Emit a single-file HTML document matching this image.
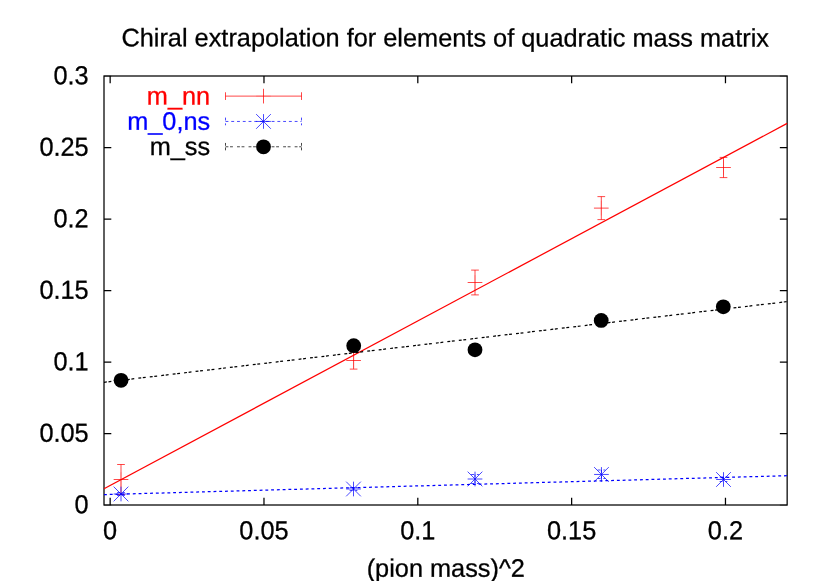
<!DOCTYPE html>
<html><head><meta charset="utf-8"><title>Chiral extrapolation</title>
<style>html,body{margin:0;padding:0;background:#fff;overflow:hidden}svg{display:block;will-change:transform}text{font-family:"Liberation Sans",sans-serif;font-size:25.33px;fill:#000;stroke:#000;stroke-width:0.28px;text-rendering:geometricPrecision}</style></head><body>
<svg width="830" height="581" viewBox="0 0 830 581">
<rect width="830" height="581" fill="#fff"/>
<text transform="translate(445.20 46.40) skewY(0.03)" text-anchor="middle">Chiral extrapolation for elements of quadratic mass matrix</text>
<g stroke="#000" stroke-width="1.25" fill="none">
<path d="M104.00 505.00h7.30M787.15 505.00h-7.30" stroke-opacity="0.45"/>
<path d="M104.00 433.50h7.30M787.15 433.50h-7.30"/>
<path d="M104.00 362.00h7.30M787.15 362.00h-7.30"/>
<path d="M104.00 290.50h7.30M787.15 290.50h-7.30"/>
<path d="M104.00 219.00h7.30M787.15 219.00h-7.30"/>
<path d="M104.00 147.50h7.30M787.15 147.50h-7.30"/>
<path d="M104.00 76.00h7.30M787.15 76.00h-7.30" stroke-opacity="0.45"/>
<path d="M110.15 505.00v-7.30M110.15 76.00v7.30"/>
<path d="M263.98 505.00v-7.30M263.98 76.00v7.30"/>
<path d="M417.81 505.00v-7.30M417.81 76.00v7.30"/>
<path d="M571.64 505.00v-7.30M571.64 76.00v7.30"/>
<path d="M725.47 505.00v-7.30M725.47 76.00v7.30"/>
</g>
<text transform="translate(88.70 513.30) skewY(0.03) scale(1 1.03)" text-anchor="end">0</text>
<text transform="translate(88.70 441.80) skewY(0.03) scale(1 1.03)" text-anchor="end">0.05</text>
<text transform="translate(88.70 370.30) skewY(0.03) scale(1 1.03)" text-anchor="end">0.1</text>
<text transform="translate(88.70 298.80) skewY(0.03) scale(1 1.03)" text-anchor="end">0.15</text>
<text transform="translate(88.70 227.30) skewY(0.03) scale(1 1.03)" text-anchor="end">0.2</text>
<text transform="translate(88.70 155.80) skewY(0.03) scale(1 1.03)" text-anchor="end">0.25</text>
<text transform="translate(88.70 84.30) skewY(0.03) scale(1 1.03)" text-anchor="end">0.3</text>
<text transform="translate(110.15 539.30) skewY(0.03) scale(1 1.03)" text-anchor="middle">0</text>
<text transform="translate(263.98 539.30) skewY(0.03) scale(1 1.03)" text-anchor="middle">0.05</text>
<text transform="translate(417.81 539.30) skewY(0.03) scale(1 1.03)" text-anchor="middle">0.1</text>
<text transform="translate(571.64 539.30) skewY(0.03) scale(1 1.03)" text-anchor="middle">0.15</text>
<text transform="translate(725.47 539.30) skewY(0.03) scale(1 1.03)" text-anchor="middle">0.2</text>
<text transform="translate(445.80 576.70) skewY(0.03)" text-anchor="middle">(pion mass)^2</text>
<rect x="104.00" y="76.00" width="683.15" height="429.00" fill="none" stroke="#000" stroke-width="1.25"/>
<text transform="translate(210.20 104.42) skewY(0.03)" text-anchor="end" style="fill:#f00;stroke:#f00">m_nn</text>
<text transform="translate(210.20 129.75) skewY(0.03)" text-anchor="end" style="fill:#00f;stroke:#00f">m_0,ns</text>
<text transform="translate(210.20 155.08) skewY(0.03)" text-anchor="end">m_ss</text>
<path d="M225.50 96.12H301.50" stroke="#f00" stroke-width="0.72" fill="none"/><path d="M225.50 92.27v7.70" stroke="#f00" stroke-width="0.72" fill="none"/><path d="M301.50 92.27v7.70" stroke="#f00" stroke-width="0.72" fill="none"/>
<path d="M256.15 96.12h14.70" stroke="#f00" stroke-width="0.72" stroke-opacity="0.3" fill="none"/><path d="M263.50 88.77v14.70" stroke="#f00" stroke-width="0.72" stroke-opacity="1" fill="none"/>
<path d="M225.50 121.45H301.50" stroke="#00f" stroke-width="0.72" fill="none" stroke-dasharray="2.88 2.885"/><path d="M225.50 117.60v7.70" stroke="#00f" stroke-width="0.72" fill="none" stroke-dasharray="2.88 2.885"/><path d="M301.50 117.60v7.70" stroke="#00f" stroke-width="0.72" fill="none" stroke-dasharray="2.88 2.885"/>
<path d="M256.15 121.45h14.70" stroke="#00f" stroke-width="0.72" stroke-opacity="1" fill="none"/><path d="M263.50 114.10v14.70" stroke="#00f" stroke-width="0.72" stroke-opacity="1" fill="none"/><path d="M256.15 114.10l14.70 14.70M256.15 128.80l14.70 -14.70" stroke="#00f" stroke-width="0.72" fill="none"/>
<path d="M225.50 146.78H301.50" stroke="#000" stroke-width="0.72" fill="none" stroke-dasharray="2.88 1.65 2.88 4.115"/><path d="M225.50 142.93v7.70" stroke="#000" stroke-width="0.72" fill="none" stroke-dasharray="2.88 1.65 2.88 4.115"/><path d="M301.50 142.93v7.70" stroke="#000" stroke-width="0.72" fill="none" stroke-dasharray="2.88 1.65 2.88 4.115"/>
<circle cx="263.50" cy="146.78" r="7.4" fill="#000"/>
<path d="M121.00 464.50V494.50" stroke="#f00" stroke-width="0.72" fill="none"/><path d="M117.15 464.50h7.70" stroke="#f00" stroke-width="0.72" fill="none"/><path d="M117.15 494.50h7.70" stroke="#f00" stroke-width="0.72" fill="none"/>
<path d="M113.65 479.50h14.70" stroke="#f00" stroke-width="0.72" stroke-opacity="1" fill="none"/><path d="M121.00 472.15v14.70" stroke="#f00" stroke-width="0.72" stroke-opacity="0.3" fill="none"/>
<path d="M353.60 351.90V369.10" stroke="#f00" stroke-width="0.72" fill="none"/><path d="M349.75 351.90h7.70" stroke="#f00" stroke-width="0.72" fill="none"/><path d="M349.75 369.10h7.70" stroke="#f00" stroke-width="0.72" fill="none"/>
<path d="M346.25 360.50h14.70" stroke="#f00" stroke-width="0.72" stroke-opacity="1" fill="none"/><path d="M353.60 353.15v14.70" stroke="#f00" stroke-width="0.72" stroke-opacity="0.3" fill="none"/>
<path d="M475.00 270.10V294.90" stroke="#f00" stroke-width="0.72" fill="none"/><path d="M471.15 270.10h7.70" stroke="#f00" stroke-width="0.72" fill="none"/><path d="M471.15 294.90h7.70" stroke="#f00" stroke-width="0.72" fill="none"/>
<path d="M467.65 282.50h14.70" stroke="#f00" stroke-width="0.72" stroke-opacity="1" fill="none"/><path d="M475.00 275.15v14.70" stroke="#f00" stroke-width="0.72" stroke-opacity="0.3" fill="none"/>
<path d="M601.30 196.62V219.62" stroke="#f00" stroke-width="0.72" fill="none"/><path d="M597.45 196.62h7.70" stroke="#f00" stroke-width="0.72" fill="none"/><path d="M597.45 219.62h7.70" stroke="#f00" stroke-width="0.72" fill="none"/>
<path d="M593.95 208.12h14.70" stroke="#f00" stroke-width="0.72" stroke-opacity="1" fill="none"/><path d="M601.30 200.77v14.70" stroke="#f00" stroke-width="0.72" stroke-opacity="0.3" fill="none"/>
<path d="M723.50 157.40V177.60" stroke="#f00" stroke-width="0.72" fill="none"/><path d="M719.65 157.40h7.70" stroke="#f00" stroke-width="0.72" fill="none"/><path d="M719.65 177.60h7.70" stroke="#f00" stroke-width="0.72" fill="none"/>
<path d="M716.15 167.50h14.70" stroke="#f00" stroke-width="0.72" stroke-opacity="1" fill="none"/><path d="M723.50 160.15v14.70" stroke="#f00" stroke-width="0.72" stroke-opacity="0.3" fill="none"/>
<path d="M104.00 488.80L787.15 123.40" stroke="#f00" stroke-width="1.25" fill="none"/>
<path d="M121.00 492.50V495.50" stroke="#00f" stroke-width="0.72" fill="none" stroke-dasharray="2.88 2.885"/><path d="M117.15 492.50h7.70" stroke="#00f" stroke-width="0.72" fill="none" stroke-dasharray="2.88 2.885"/><path d="M117.15 495.50h7.70" stroke="#00f" stroke-width="0.72" fill="none" stroke-dasharray="2.88 2.885"/>
<path d="M113.65 494.00h14.70" stroke="#00f" stroke-width="0.72" stroke-opacity="1" fill="none"/><path d="M121.00 486.65v14.70" stroke="#00f" stroke-width="0.72" stroke-opacity="1" fill="none"/><path d="M113.65 486.65l14.70 14.70M113.65 501.35l14.70 -14.70" stroke="#00f" stroke-width="0.72" fill="none"/>
<path d="M353.50 487.50V490.50" stroke="#00f" stroke-width="0.72" fill="none" stroke-dasharray="2.88 2.885"/><path d="M349.65 487.50h7.70" stroke="#00f" stroke-width="0.72" fill="none" stroke-dasharray="2.88 2.885"/><path d="M349.65 490.50h7.70" stroke="#00f" stroke-width="0.72" fill="none" stroke-dasharray="2.88 2.885"/>
<path d="M346.15 489.00h14.70" stroke="#00f" stroke-width="0.72" stroke-opacity="1" fill="none"/><path d="M353.50 481.65v14.70" stroke="#00f" stroke-width="0.72" stroke-opacity="1" fill="none"/><path d="M346.15 481.65l14.70 14.70M346.15 496.35l14.70 -14.70" stroke="#00f" stroke-width="0.72" fill="none"/>
<path d="M475.00 474.50V483.50" stroke="#00f" stroke-width="0.72" fill="none" stroke-dasharray="2.88 2.885"/><path d="M471.15 474.50h7.70" stroke="#00f" stroke-width="0.72" fill="none" stroke-dasharray="2.88 2.885"/><path d="M471.15 483.50h7.70" stroke="#00f" stroke-width="0.72" fill="none" stroke-dasharray="2.88 2.885"/>
<path d="M467.65 479.00h14.70" stroke="#00f" stroke-width="0.72" stroke-opacity="1" fill="none"/><path d="M475.00 471.65v14.70" stroke="#00f" stroke-width="0.72" stroke-opacity="1" fill="none"/><path d="M467.65 471.65l14.70 14.70M467.65 486.35l14.70 -14.70" stroke="#00f" stroke-width="0.72" fill="none"/>
<path d="M601.45 470.00V478.50" stroke="#00f" stroke-width="0.72" fill="none" stroke-dasharray="2.88 2.885"/><path d="M597.60 470.00h7.70" stroke="#00f" stroke-width="0.72" fill="none" stroke-dasharray="2.88 2.885"/><path d="M597.60 478.50h7.70" stroke="#00f" stroke-width="0.72" fill="none" stroke-dasharray="2.88 2.885"/>
<path d="M594.10 474.45h14.70" stroke="#00f" stroke-width="0.72" stroke-opacity="1" fill="none"/><path d="M601.45 467.10v14.70" stroke="#00f" stroke-width="0.72" stroke-opacity="1" fill="none"/><path d="M594.10 467.10l14.70 14.70M594.10 481.80l14.70 -14.70" stroke="#00f" stroke-width="0.72" fill="none"/>
<path d="M723.50 477.00V481.50" stroke="#00f" stroke-width="0.72" fill="none" stroke-dasharray="2.88 2.885"/><path d="M719.65 477.00h7.70" stroke="#00f" stroke-width="0.72" fill="none" stroke-dasharray="2.88 2.885"/><path d="M719.65 481.50h7.70" stroke="#00f" stroke-width="0.72" fill="none" stroke-dasharray="2.88 2.885"/>
<path d="M716.15 479.50h14.70" stroke="#00f" stroke-width="0.72" stroke-opacity="1" fill="none"/><path d="M723.50 472.15v14.70" stroke="#00f" stroke-width="0.72" stroke-opacity="1" fill="none"/><path d="M716.15 472.15l14.70 14.70M716.15 486.85l14.70 -14.70" stroke="#00f" stroke-width="0.72" fill="none"/>
<path d="M104.00 494.60L787.15 475.70" stroke="#00f" stroke-width="1.25" fill="none" stroke-dasharray="2.88 2.885"/>
<circle cx="121.05" cy="380.30" r="7.4" fill="#000"/>
<circle cx="353.70" cy="345.70" r="7.4" fill="#000"/>
<circle cx="475.00" cy="349.85" r="7.4" fill="#000"/>
<circle cx="601.20" cy="320.45" r="7.4" fill="#000"/>
<circle cx="723.30" cy="306.85" r="7.4" fill="#000"/>
<path d="M104.00 382.30L787.15 301.60" stroke="#000" stroke-width="1.25" fill="none" stroke-dasharray="2.88 1.65 2.88 4.115"/>
</svg></body></html>
